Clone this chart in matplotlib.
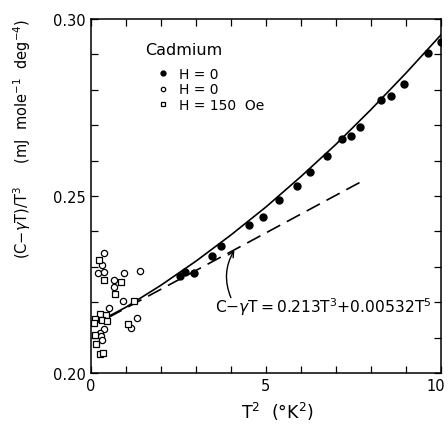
import numpy as np
import matplotlib.pyplot as plt
import matplotlib.transforms as mtransforms
from matplotlib.ticker import MultipleLocator

# filled circles, H = 0
h0_x = [2.55, 2.7, 2.95, 3.45, 3.73, 4.51, 4.92, 5.37, 5.88, 6.27, 6.76,
        7.18, 7.43, 7.68, 8.28, 8.59, 8.94, 9.64, 10.0]
h0_y = [0.2275, 0.2285, 0.2282, 0.2330, 0.2360, 0.2419, 0.2441, 0.2489,
        0.2528, 0.2567, 0.2612, 0.2660, 0.2671, 0.2694, 0.2771, 0.2784,
        0.2817, 0.2903, 0.2935]

# open circles, H = 0
h0o_x = [0.36, 0.33, 0.20, 0.36, 0.95, 1.39, 0.67, 0.65, 0.91, 0.53, 1.31,
         1.15, 0.36, 0.27, 0.29, 0.31, 0.38]
h0o_y = [0.2338, 0.2305, 0.2283, 0.2286, 0.2284, 0.2289, 0.2263, 0.2244,
         0.2204, 0.2185, 0.2156, 0.2127, 0.2125, 0.2113, 0.2104, 0.2093,
         0.2159]

# squares, H = 150 Oe
h150_x = [0.22, 0.38, 0.86, 0.69, 1.24, 0.25, 0.44, 0.12, 0.31, 0.46, 0.08,
          1.05, 0.12, 0.15, 0.25, 0.34]
h150_y = [0.2319, 0.2263, 0.2258, 0.2223, 0.2203, 0.2168, 0.2163, 0.2154,
          0.2151, 0.2147, 0.2140, 0.2138, 0.2107, 0.2083, 0.2055, 0.2057]

# solid curve through the data
fit_x = [0.5, 1, 2, 3, 4, 5, 6, 7, 8, 9, 10]
fit_y = [0.2160, 0.2186, 0.2248, 0.2316, 0.2390, 0.2469, 0.2555, 0.2646,
         0.2744, 0.2847, 0.2955]

# dashed line C - gT = 0.213T^3 + 0.00532T^5
lin_x = [0.5, 7.75]
lin_y = [0.2157, 0.2542]

fig = plt.figure(figsize=(4.48, 4.27), dpi=100)
ax = fig.add_axes([0.203, 0.124, 0.781, 0.829])

ax.plot(fit_x, fit_y, color='black', lw=1.2)
ax.plot(lin_x, lin_y, color='black', lw=1.2, dashes=(9, 4.5))
ax.plot(h0_x, h0_y, 'o', color='black', ms=5, label='H = 0')
ax.plot(h0o_x, h0o_y, 'o', mfc='white', mec='black', mew=0.9, ms=4.5, label='H = 0')
ax.plot(h150_x, h150_y, 's', mfc='white', mec='black', mew=0.9, ms=4.2, label='H = 150  Oe')

ax.set_xlim(0, 10)
ax.set_ylim(0.20, 0.30)
ax.xaxis.set_minor_locator(MultipleLocator(1))
ax.yaxis.set_minor_locator(MultipleLocator(0.01))
ax.set_xticks([0, 5, 10])
ax.set_xticklabels(['0', '5', '10'])
ax.set_yticks([0.20, 0.25, 0.30])
ax.set_yticklabels(['0.20', '0.25', '0.30'])
ax.tick_params(which='both', direction='in', top=True, right=True,
               labelsize=10.5, length=5, width=0.9)
for s in ax.spines.values():
    s.set_linewidth(1.1)
# keep "10" inside the figure
lab10 = ax.get_xticklabels()[-1]
lab10.set_transform(lab10.get_transform() +
                    mtransforms.ScaledTranslation(-5 / 100, 0, fig.dpi_scale_trans))

ax.text(0.155, 0.915, 'Cadmium', transform=ax.transAxes, fontsize=11.5,
        ha='left', va='center')
ax.legend(loc='upper left', bbox_to_anchor=(0.175, 0.88),
          frameon=False, fontsize=10, markerscale=0.7, borderaxespad=0,
          handlelength=0.8, handletextpad=0.7, labelspacing=0.1)

ax.annotate('', xy=(4.1, 0.2347), xytext=(4.0, 0.2213),
            arrowprops=dict(arrowstyle='->', color='black', lw=1,
                            shrinkA=0, shrinkB=0,
                            connectionstyle='arc3,rad=-0.25'))
ax.text(6.65, 0.2188, 'C$-\\gamma$T$=$0.213T$^3$$+$0.00532T$^5$',
        ha='center', va='center', fontsize=11.2)

fig.text(0.05, 0.675, '(C$-\\gamma$T)/T$^3$     (mJ  mole$^{-1}$  deg$^{-4}$)',
         rotation=90, ha='center', va='center', fontsize=10.5)
fig.text(0.62, 0.035, 'T$^2$  ($\\degree$K$^2$)', ha='center', va='center', fontsize=12.5)

fig.savefig('out.png', dpi=100)
